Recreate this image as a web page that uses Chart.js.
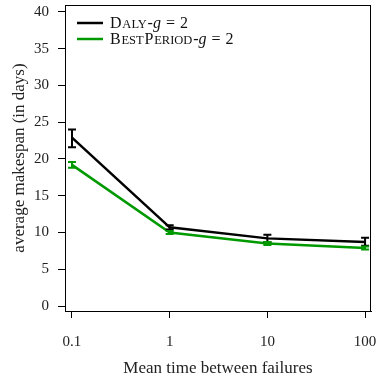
<!DOCTYPE html>
<html>
<head>
<meta charset="utf-8">
<script src="https://cdn.jsdelivr.net/npm/chart.js@4/dist/chart.umd.min.js"></script>
<style>
  html, body { margin: 0; padding: 0; background: #fff; }
  #wrap { width: 377px; height: 379px; }
</style>
</head>
<body>
<div id="wrap"><canvas id="myChart"></canvas></div>
<script>
// data
var mtbf = [0.1, 1, 10, 100];
var xTicks = [0.1, 1, 10, 100];
var yTicks = [0, 5, 10, 15, 20, 25, 30, 35, 40];

var daly = [22.9, 10.7, 9.2, 8.7];
var dalyLow = [21.6, 10.4, 8.7, 8.2];
var dalyHigh = [24.0, 11.0, 9.7, 9.3];

var best = [19.2, 10.0, 8.5, 7.9];
var bestLow = [18.8, 9.8, 8.3, 7.7];
var bestHigh = [19.6, 10.2, 8.7, 8.1];

var serif = "'Liberation Serif', 'DejaVu Serif', serif";
var green = '#009a00';

function pts(vals) {
  var out = [];
  for (var i = 0; i < mtbf.length; i++) out.push({x: mtbf[i], y: vals[i]});
  return out;
}

// error bars with little caps
var errorBars = {
  id: 'errorBars',
  afterDatasetsDraw: function(chart) {
    var ctx = chart.ctx;
    var xs = chart.scales.x, ys = chart.scales.y;
    chart.data.datasets.forEach(function(ds) {
      ctx.save();
      ctx.strokeStyle = ds.borderColor;
      ctx.lineWidth = 2;
      for (var i = 0; i < mtbf.length; i++) {
        var x = xs.getPixelForValue(mtbf[i]);
        var lo = ys.getPixelForValue(ds.low[i]);
        var hi = ys.getPixelForValue(ds.high[i]);
        ctx.beginPath();
        ctx.moveTo(x, lo); ctx.lineTo(x, hi);
        ctx.moveTo(x - 4, lo); ctx.lineTo(x + 4, lo);
        ctx.moveTo(x - 4, hi); ctx.lineTo(x + 4, hi);
        ctx.stroke();
      }
      ctx.restore();
    });
  }
};

// box round the plot + legend with small caps
var boxAndLegend = {
  id: 'boxAndLegend',
  afterDraw: function(chart) {
    var ctx = chart.ctx, a = chart.chartArea;
    ctx.save();
    ctx.strokeStyle = '#000';
    ctx.lineWidth = 1;
    ctx.strokeRect(a.left + 0.5, a.top + 0.5, a.right - a.left - 1, a.bottom - a.top);

    var entries = [
      {color: '#000', parts: [['D', 16], ['ALY', 12.5]]},
      {color: green, parts: [['B', 16], ['EST', 12.5], ['P', 16], ['ERIOD', 12.5]]}
    ];
    entries.forEach(function(e, k) {
      var y = a.top + 18 + k * 16;
      ctx.strokeStyle = e.color;
      ctx.lineWidth = 2.5;
      ctx.beginPath();
      ctx.moveTo(a.left + 12, y); ctx.lineTo(a.left + 38, y);
      ctx.stroke();
      ctx.fillStyle = '#111';
      ctx.textBaseline = 'alphabetic';
      var x = a.left + 45;
      var base = y + 5;
      e.parts.forEach(function(p) {
        ctx.font = p[1] + 'px ' + serif;
        ctx.fillText(p[0], x, base);
        x += ctx.measureText(p[0]).width + 0.8;
      });
      ctx.font = '16px ' + serif;
      ctx.fillText('-', x, base); x += ctx.measureText('-').width;
      ctx.font = 'italic 16px ' + serif;
      ctx.fillText('g', x, base); x += ctx.measureText('g').width + 5;
      ctx.font = '16px ' + serif;
      ctx.fillText('=', x, base); x += ctx.measureText('=').width + 5;
      ctx.fillText('2', x, base);
    });
    ctx.restore();
  }
};

var myChart = document.getElementById('myChart').getContext('2d');
var chart = new Chart(myChart, {
  type: 'line',
  data: {
    datasets: [{
      label: 'Daly-g = 2',
      data: pts(daly),
      low: dalyLow,
      high: dalyHigh,
      borderColor: '#000',
      borderWidth: 2.5,
      pointRadius: 0,
      tension: 0
    }, {
      label: 'BestPeriod-g = 2',
      data: pts(best),
      low: bestLow,
      high: bestHigh,
      borderColor: green,
      borderWidth: 2.5,
      pointRadius: 0,
      tension: 0
    }]
  },
  options: {
    responsive: true,
    maintainAspectRatio: false,
    animation: false,
    layout: { padding: { top: 5, right: 6, left: 0, bottom: 0 } },
    plugins: { legend: { display: false }, tooltip: { enabled: false } },
    scales: {
      x: {
        type: 'logarithmic',
        min: 0.0848,
        max: 115,
        afterBuildTicks: function(s) { s.ticks = xTicks.map(function(v) { return {value: v}; }); },
        afterFit: function(s) { s.height = 68; s.paddingLeft = 0; s.paddingRight = 0; },
        grid: { display: true, drawOnChartArea: false, drawTicks: true, tickLength: 7, color: '#000', lineWidth: 1 },
        border: { display: true, color: '#000', width: 1 },
        ticks: {
          color: '#222', padding: 15, maxRotation: 0, autoSkip: false,
          font: { family: serif, size: 15 },
          callback: function(v) { return String(v); }
        },
        title: {
          display: true, text: 'Mean time between failures', color: '#222',
          font: { family: serif, size: 17 }, padding: { top: 0, bottom: 0 }
        }
      },
      y: {
        min: -0.68,
        max: 40.95,
        afterBuildTicks: function(s) { s.ticks = yTicks.map(function(v) { return {value: v}; }); },
        afterFit: function(s) { s.width = 65; s.paddingTop = 0; s.paddingBottom = 0; },
        grid: { display: true, drawOnChartArea: false, drawTicks: true, tickLength: 7, color: '#000', lineWidth: 1 },
        border: { display: true, color: '#000', width: 1 },
        ticks: {
          color: '#222', padding: 9, autoSkip: false,
          font: { family: serif, size: 15 }
        },
        title: {
          display: true, text: 'average makespan (in days)', color: '#222',
          font: { family: serif, size: 17 }, padding: { top: 9, bottom: 0 }
        }
      }
    }
  },
  plugins: [errorBars, boxAndLegend]
});
</script>
</body>
</html>
